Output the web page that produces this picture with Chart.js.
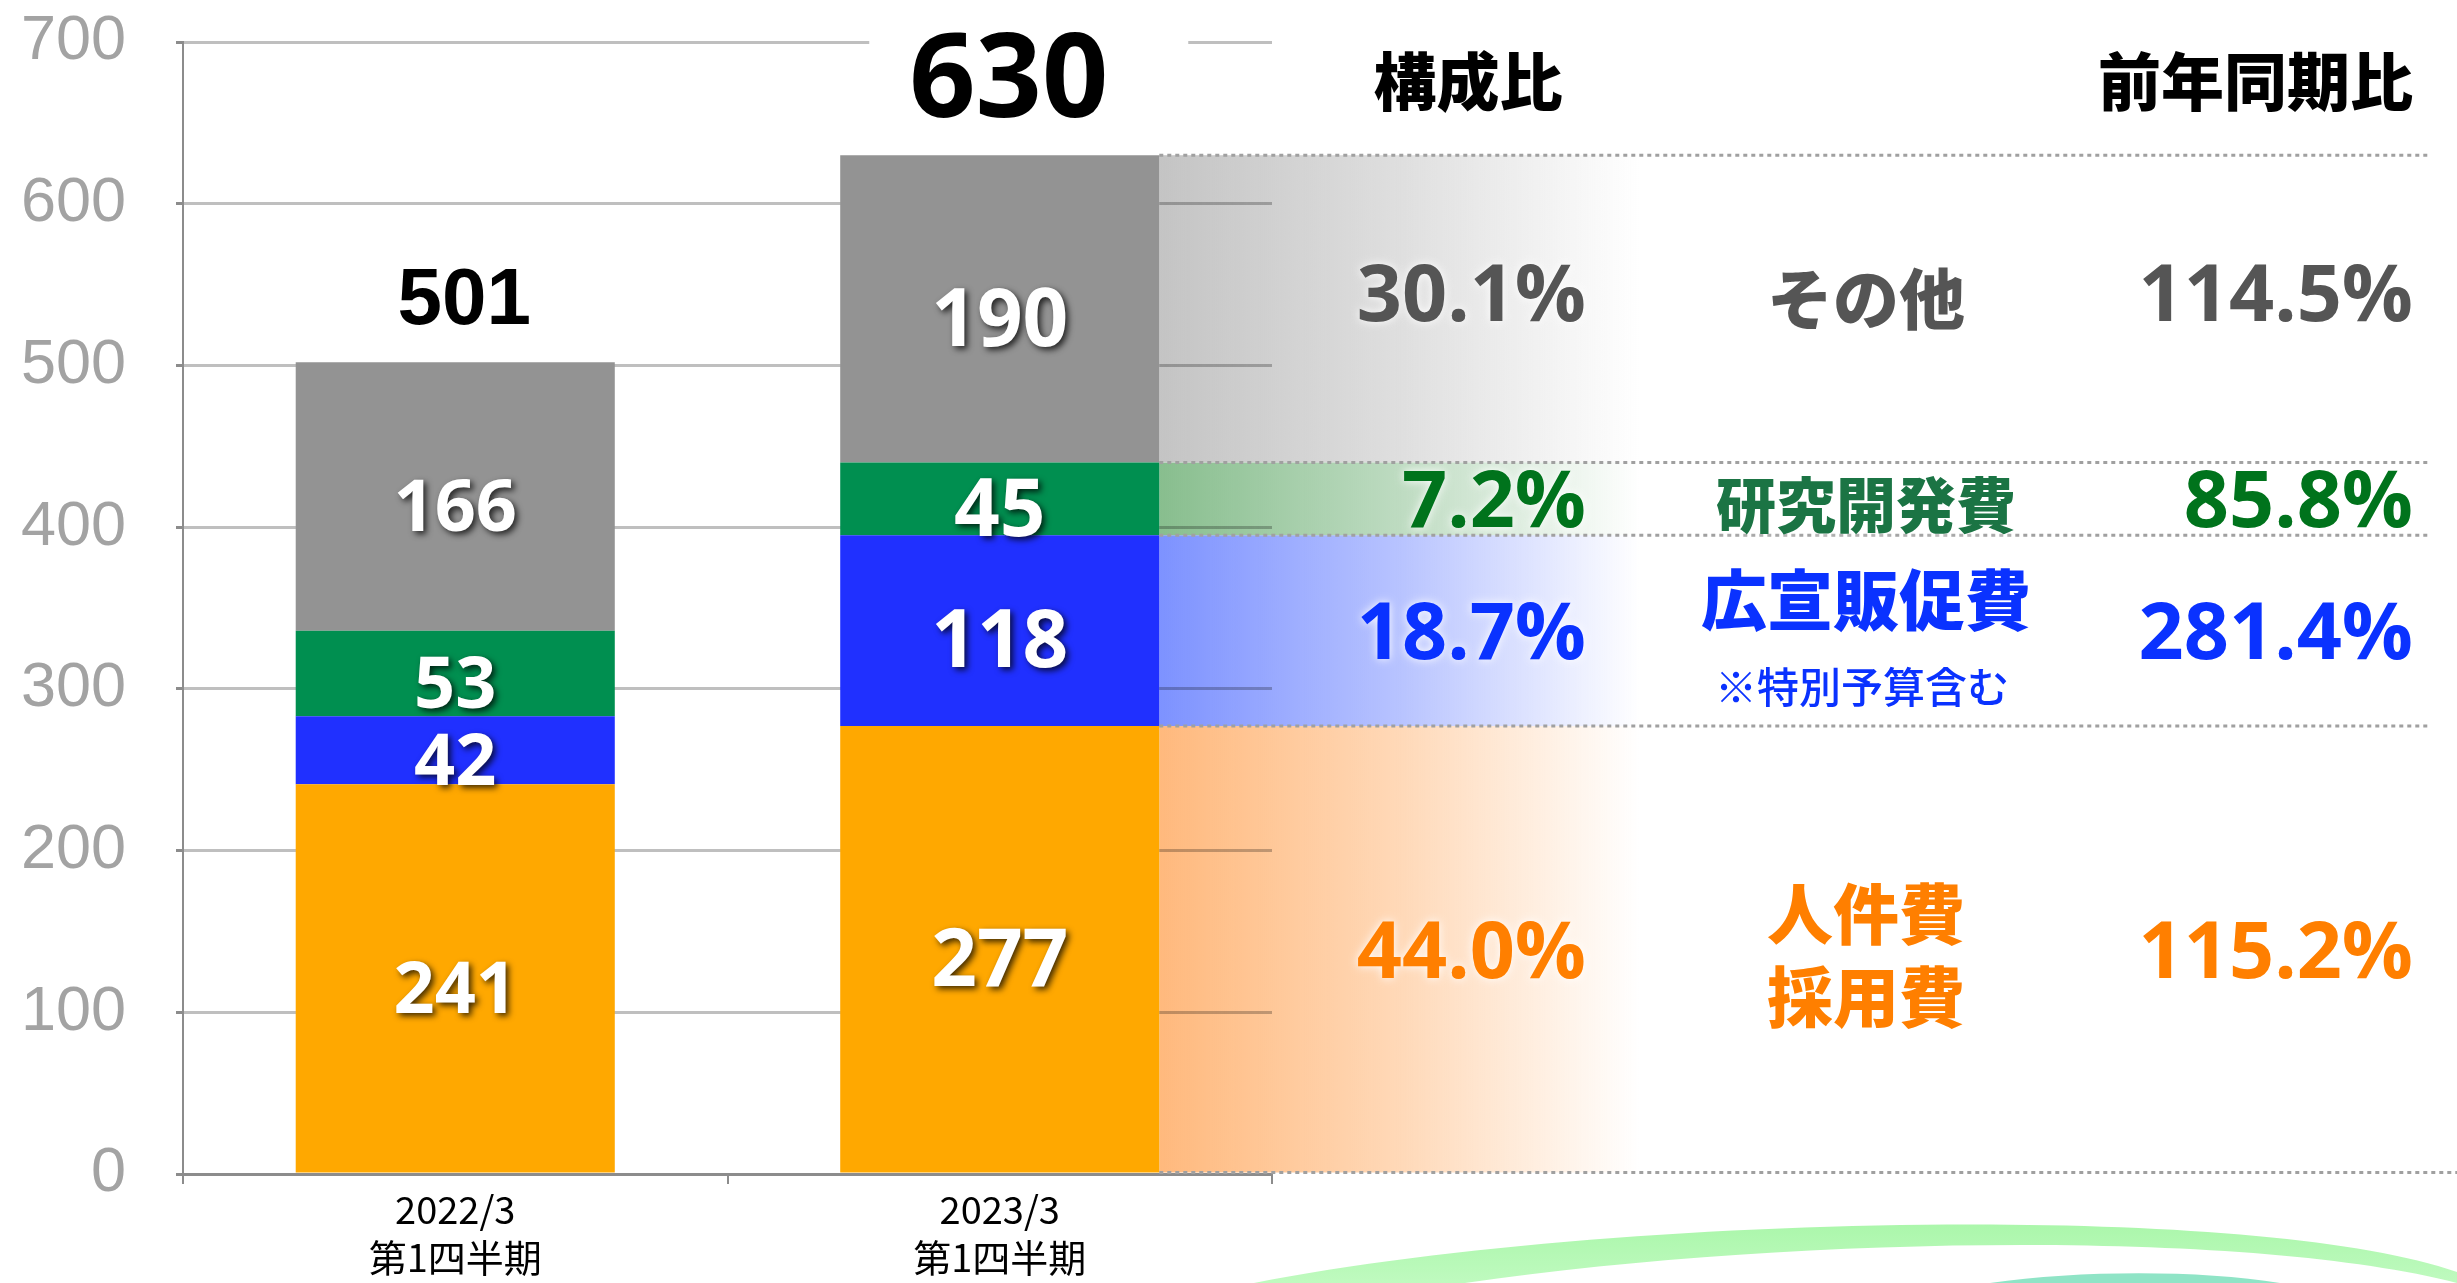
<!DOCTYPE html>
<html>
<head>
<meta charset="utf-8">
<script src="https://cdn.jsdelivr.net/npm/chart.js@4.4.0/dist/chart.umd.min.js"></script>
<style>
html, body { margin: 0; padding: 0; background: #fff; }
#wrap { width: 2457px; height: 1283px; }
</style>
</head>
<body>
<div id="wrap"><canvas id="costChart" width="2457" height="1283"></canvas></div>
<script>
// data
const categories = [['2022/3', '第1四半期'], ['2023/3', '第1四半期']];
const personnel = [241, 277];
const advertising = [42, 118];
const research = [53, 45];
const others = [166, 190];
const totals = [501, 630];

const seriesNames = [['人件費', '採用費'], ['広宣販促費'], ['研究開発費'], ['その他']];
const nameNotes = [null, '※特別予算含む', null, null];
const shareLabels = ['44.0%', '18.7%', '7.2%', '30.1%'];
const yoyLabels = ['115.2%', '281.4%', '85.8%', '114.5%'];
const headers = ['構成比', '前年同期比'];

// styles
const barColors = ['#ffa800', '#2030ff', '#008f50', '#939393'];
const bandRGB = [[255, 185, 125], [125, 146, 255], [136, 190, 142], [196, 196, 196]];
const textColors = ['#ff7f00', '#0a32ff', '#00731c', '#555555'];
const nameColors = ['#ff7f00', '#0a32ff', '#1b7444', '#555555'];
const rowShift = [6, 6, 6, -10];
const valueFontSizes = [72, 80];
const totalFonts = ["bold 80px 'Liberation Sans', Arial, sans-serif", "bold 116px 'Open Sans', sans-serif"];
const numFont = "'Open Sans', 'Noto Sans', sans-serif";
const jpFont = "'Noto Sans CJK JP', sans-serif";

const shareX = 1586, nameX = 1866, yoyX = 2413, bandEnd = 1640, dotEnd = 2430;

const sidePlugin = {
    id: 'side',
    beforeDraw(chart) {
        // fading bands next to the 2nd bar
        const ctx = chart.ctx;
        ctx.save();
        chart.data.datasets.forEach((ds, i) => {
            const el = chart.getDatasetMeta(i).data[1];
            const x0 = el.x + el.width / 2;
            const c = bandRGB[i];
            const g = ctx.createLinearGradient(x0, 0, bandEnd, 0);
            g.addColorStop(0, `rgba(${c[0]},${c[1]},${c[2]},1)`);
            g.addColorStop(0.5, `rgba(${c[0]},${c[1]},${c[2]},0.55)`);
            g.addColorStop(1, `rgba(${c[0]},${c[1]},${c[2]},0)`);
            ctx.fillStyle = g;
            ctx.fillRect(x0, el.y, bandEnd - x0, el.base - el.y);
        });
        ctx.restore();
    },
    afterDatasetsDraw(chart) {
        const ctx = chart.ctx;
        ctx.save();

        // values inside the bars
        ctx.textAlign = 'center';
        ctx.textBaseline = 'middle';
        chart.data.datasets.forEach((ds, i) => {
            chart.getDatasetMeta(i).data.forEach((el, j) => {
                ctx.save();
                ctx.font = `bold ${valueFontSizes[j]}px ${numFont}`;
                ctx.fillStyle = '#fff';
                ctx.shadowColor = 'rgba(0,0,0,0.75)';
                ctx.shadowBlur = 6;
                ctx.shadowOffsetX = 3;
                ctx.shadowOffsetY = 3;
                ctx.fillText(String(ds.data[j]), el.x, (el.y + el.base) / 2 + 14);
                ctx.restore();
            });
        });

        // totals on top
        const topMeta = chart.getDatasetMeta(chart.data.datasets.length - 1);
        topMeta.data.forEach((el, j) => {
            ctx.font = totalFonts[j];
            ctx.textBaseline = 'alphabetic';
            const txt = String(totals[j]);
            const w = ctx.measureText(txt).width;
            const cx = el.x + 9;
            const y = el.y - 38;
            const h = parseInt(totalFonts[j].match(/(\d+)px/)[1]);
            ctx.fillStyle = '#fff';
            ctx.fillRect(cx - w / 2 - 40, y - h * 0.85, w + 120, h * 0.85);
            ctx.fillStyle = '#000';
            ctx.fillText(txt, cx, y);
        });

        // dotted separators
        const m0 = chart.getDatasetMeta(0).data[1];
        const x0 = m0.x + m0.width / 2;
        ctx.strokeStyle = '#a0a0a0';
        ctx.lineWidth = 3;
        ctx.setLineDash([4, 4]);
        const ys = chart.data.datasets.map((ds, i) => chart.getDatasetMeta(i).data[1].y);
        ys.forEach(y => {
            ctx.beginPath();
            ctx.moveTo(x0, y);
            ctx.lineTo(dotEnd, y);
            ctx.stroke();
        });
        ctx.beginPath();
        ctx.moveTo(x0, m0.base);
        ctx.lineTo(2457, m0.base);
        ctx.stroke();
        ctx.setLineDash([]);

        // headers
        ctx.fillStyle = '#000';
        ctx.textBaseline = 'middle';
        ctx.font = `900 63px ${jpFont}`;
        ctx.textAlign = 'center';
        ctx.fillText(headers[0], 1468, 81);
        ctx.textAlign = 'right';
        ctx.fillText(headers[1], yoyX, 81);

        // rows
        ctx.shadowColor = 'rgba(255,255,255,1)';
        ctx.shadowBlur = 10;
        chart.data.datasets.forEach((ds, i) => {
            const el = chart.getDatasetMeta(i).data[1];
            const cy = (el.y + el.base) / 2 + rowShift[i];
            ctx.fillStyle = textColors[i];
            ctx.font = `bold 79px ${numFont}`;
            ctx.textAlign = 'right';
            ctx.fillText(shareLabels[i], shareX, cy);
            ctx.fillText(yoyLabels[i], yoyX, cy);

            ctx.fillStyle = nameColors[i];
            ctx.textAlign = 'center';
            const lines = seriesNames[i];
            if (nameNotes[i]) {
                ctx.font = `900 66px ${jpFont}`;
                ctx.fillText(lines[0], nameX, cy - 37);
                ctx.font = `500 42px ${jpFont}`;
                ctx.fillText(nameNotes[i], nameX - 4, cy + 50);
            } else {
                const size = lines.length > 1 ? 66 : (i === 2 ? 60 : 66);
                ctx.font = `900 ${size}px ${jpFont}`;
                const step = 83;
                lines.forEach((t, k) => {
                    ctx.fillText(t, nameX, cy + (k - (lines.length - 1) / 2) * step);
                });
            }
        });
        ctx.restore();
    },
    afterDraw(chart) {
        // decorative arcs bottom right
        const ctx = chart.ctx;
        ctx.save();
        const g = ctx.createLinearGradient(0, 1215, 0, 1283);
        g.addColorStop(0, '#a8f6a8');
        g.addColorStop(1, '#bffabf');
        ctx.fillStyle = g;
        ctx.beginPath();
        ctx.moveTo(1254, 1283);
        ctx.bezierCurveTo(1600, 1215, 2250, 1200, 2457, 1272);
        ctx.lineTo(2457, 1283);
        ctx.bezierCurveTo(2250, 1230, 1800, 1235, 1465, 1283);
        ctx.closePath();
        ctx.fill();
        ctx.fillStyle = '#8fe4c6';
        ctx.beginPath();
        ctx.moveTo(1990, 1283);
        ctx.bezierCurveTo(2080, 1270, 2200, 1270, 2280, 1283);
        ctx.closePath();
        ctx.fill();
        ctx.restore();
    }
};

new Chart(document.getElementById('costChart'), {
    type: 'bar',
    data: {
        labels: categories,
        datasets: [
            { label: '人件費・採用費', data: personnel, backgroundColor: barColors[0] },
            { label: '広宣販促費', data: advertising, backgroundColor: barColors[1] },
            { label: '研究開発費', data: research, backgroundColor: barColors[2] },
            { label: 'その他', data: others, backgroundColor: barColors[3] }
        ]
    },
    options: {
        responsive: false,
        devicePixelRatio: 1,
        animation: false,
        barPercentage: 0.586,
        categoryPercentage: 1,
        layout: { padding: { left: 0, top: 42, right: 1185, bottom: 0 } },
        plugins: {
            legend: { display: false },
            tooltip: { enabled: false }
        },
        scales: {
            x: {
                stacked: true,
                ticks: {
                    color: '#000',
                    padding: 2,
                    font: { family: "'Liberation Sans Narrow', 'Noto Sans CJK JP', sans-serif", size: 38, lineHeight: 1.25 }
                },
                grid: { drawOnChartArea: false, tickLength: 10, color: '#8c8c8c', lineWidth: 2 },
                border: { color: '#8c8c8c', width: 3 },
                afterFit: s => { s.height = 109; s.paddingLeft = 0; s.paddingRight = 0; }
            },
            y: {
                stacked: true,
                min: 0,
                max: 700,
                ticks: {
                    stepSize: 100,
                    color: '#a3a3a3',
                    padding: 50,
                    font: { family: "'Liberation Sans', Arial, sans-serif", size: 63 }
                },
                grid: { color: 'rgba(0,0,0,0.25)', lineWidth: 3, tickLength: 7, tickColor: '#8c8c8c' },
                border: { color: '#8c8c8c', width: 2 },
                afterFit: s => { s.width = 183; s.paddingTop = 0; s.paddingBottom = 0; }
            }
        }
    },
    plugins: [sidePlugin]
});
</script>
</body>
</html>
